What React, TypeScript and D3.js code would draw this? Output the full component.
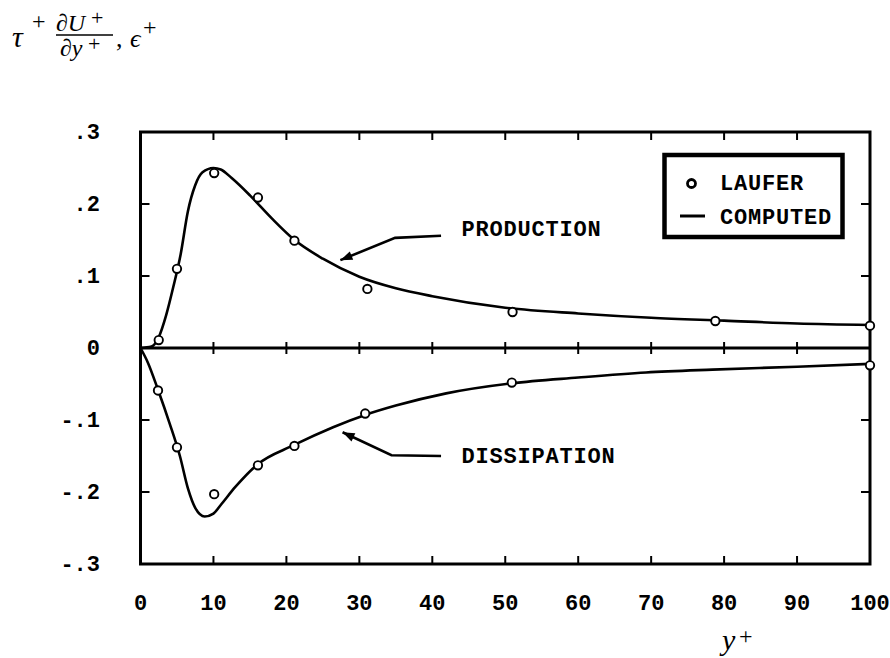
import { useEffect, useRef } from "react";
import * as d3 from "d3";

// Laufer measurements (circles)
const lauferProdX = [2.5, 5, 10.1, 16.1, 21.1, 31.1, 51, 78.8, 100];
const lauferProdY = [0.011, 0.11, 0.243, 0.209, 0.149, 0.082, 0.05, 0.0375, 0.031];
const lauferDissX = [2.4, 5, 10.1, 16.1, 21.1, 30.8, 50.9, 100];
const lauferDissY = [-0.059, -0.138, -0.203, -0.163, -0.136, -0.091, -0.048, -0.024];

// computed curves
const compProdX = [0, 1.5, 2.5, 3.5, 4.5, 5.5, 6.5, 7.5, 8.5, 10, 11, 12.5, 15, 18, 21, 25, 30, 35, 40, 50, 60, 70, 80, 90, 100];
const compProdY = [0, 0.002, 0.015, 0.045, 0.085, 0.13, 0.19, 0.226, 0.244, 0.25, 0.248, 0.236, 0.212, 0.18, 0.151, 0.124, 0.099, 0.083, 0.072, 0.056, 0.048, 0.042, 0.038, 0.034, 0.032];
const compDissX = [0, 1, 2.4, 4, 5.4, 6.5, 7.5, 8.8, 10, 11, 13, 16, 21, 26.4, 30.8, 35, 41.9, 50.9, 60, 69.3, 78.4, 90, 100];
const compDissY = [0, -0.02, -0.058, -0.105, -0.15, -0.195, -0.222, -0.234, -0.23, -0.218, -0.193, -0.162, -0.135, -0.11, -0.093, -0.08, -0.063, -0.049, -0.041, -0.034, -0.03, -0.026, -0.022];

const xTicks = [0, 10, 20, 30, 40, 50, 60, 70, 80, 90, 100];
const yTicks = [0.3, 0.2, 0.1, 0, -0.1, -0.2, -0.3];
const yTickLabels = [".3", ".2", ".1", "0", "-.1", "-.2", "-.3"];

const mono = "'Liberation Mono', 'DejaVu Sans Mono', monospace";
const serif = "'Liberation Serif', 'DejaVu Serif', serif";
const FS = 22;

export default function App() {
  const ref = useRef<SVGSVGElement | null>(null);

  useEffect(() => {
    if (!ref.current) return;
    const width = 890;
    const height = 658;

    const svg = d3.select(ref.current)
      .attr("width", width)
      .attr("height", height);
    svg.selectAll("*").remove();

    const x = d3.scaleLinear().domain([0, 100]).range([140.5, 870]);
    const y = d3.scaleLinear().domain([-0.3, 0.3]).range([564, 132]);

    const x0 = x(0), x1 = x(100), yTop = y(0.3), yBot = y(-0.3), yZero = y(0);

    /* ---------- ticks ---------- */
    const tk = svg.append("g").attr("stroke", "#000").attr("stroke-width", 2);
    xTicks.slice(1, -1).forEach(t => {
      tk.append("line").attr("x1", x(t)).attr("x2", x(t)).attr("y1", yTop).attr("y2", yTop + 8);
      tk.append("line").attr("x1", x(t)).attr("x2", x(t)).attr("y1", yZero - 6).attr("y2", yZero + 6);
      tk.append("line").attr("x1", x(t)).attr("x2", x(t)).attr("y1", yBot).attr("y2", yBot - 8);
    });
    yTicks.filter(t => t !== 0 && Math.abs(t) < 0.3).forEach(t => {
      tk.append("line").attr("x1", x0).attr("x2", x0 + 9).attr("y1", y(t)).attr("y2", y(t));
      tk.append("line").attr("x1", x1).attr("x2", x1 - 9).attr("y1", y(t)).attr("y2", y(t));
    });

    /* ---------- frame + zero line ---------- */
    svg.append("rect")
      .attr("x", x0).attr("y", yTop)
      .attr("width", x1 - x0).attr("height", yBot - yTop)
      .attr("fill", "none").attr("stroke", "#000").attr("stroke-width", 3);
    svg.append("line")
      .attr("x1", x0).attr("x2", x1).attr("y1", yZero).attr("y2", yZero)
      .attr("stroke", "#000").attr("stroke-width", 3);

    /* ---------- tick labels ---------- */
    svg.append("g").selectAll("text")
      .data(xTicks).enter().append("text")
      .attr("x", d => x(d)).attr("y", 610)
      .attr("text-anchor", "middle")
      .attr("font-family", mono).attr("font-weight", "bold").attr("font-size", FS)
      .text(d => String(d));
    svg.append("g").selectAll("text")
      .data(yTicks).enter().append("text")
      .attr("x", 100).attr("y", d => y(d) + 7)
      .attr("text-anchor", "end")
      .attr("font-family", mono).attr("font-weight", "bold").attr("font-size", FS)
      .text((_, i) => yTickLabels[i]);

    /* ---------- computed curves ---------- */
    const line = d3.line<[number, number]>()
      .x(d => x(d[0])).y(d => y(d[1]))
      .curve(d3.curveMonotoneX);
    const prod = compProdX.map((v, i) => [v, compProdY[i]] as [number, number]);
    const diss = compDissX.map((v, i) => [v, compDissY[i]] as [number, number]);
    [prod, diss].forEach(d => {
      svg.append("path").datum(d)
        .attr("fill", "none").attr("stroke", "#000").attr("stroke-width", 2.6)
        .attr("d", line);
    });

    /* ---------- Laufer points ---------- */
    const pts = [
      ...lauferProdX.map((v, i) => [v, lauferProdY[i]]),
      ...lauferDissX.map((v, i) => [v, lauferDissY[i]]),
    ];
    svg.append("g").selectAll("circle")
      .data(pts).enter().append("circle")
      .attr("cx", d => x(d[0])).attr("cy", d => y(d[1]))
      .attr("r", 4.2).attr("fill", "#fff")
      .attr("stroke", "#000").attr("stroke-width", 1.9);

    /* ---------- annotations ---------- */
    const notes = [
      { label: "PRODUCTION", pos: [44, 0.1556], path: [[41.2, 0.156], [34.9, 0.153], [27.4, 0.122]] },
      { label: "DISSIPATION", pos: [44, -0.16], path: [[41.2, -0.15], [34.4, -0.149], [27.7, -0.117]] },
    ];
    notes.forEach(n => {
      const p = n.path.map(q => [x(q[0]), y(q[1])]);
      svg.append("path")
        .attr("d", d3.line()(p as [number, number][]))
        .attr("fill", "none").attr("stroke", "#000").attr("stroke-width", 2.6);
      const [ax, ay] = p[2];
      const [bx, by] = p[1];
      const ang = Math.atan2(ay - by, ax - bx);
      const L = 12, W = 4.5;
      const hx = ax - L * Math.cos(ang), hy = ay - L * Math.sin(ang);
      svg.append("path")
        .attr("d", `M${ax},${ay}L${hx - W * Math.sin(ang)},${hy + W * Math.cos(ang)}L${hx + W * Math.sin(ang)},${hy - W * Math.cos(ang)}Z`)
        .attr("fill", "#000");
      svg.append("text")
        .attr("x", x(n.pos[0])).attr("y", y(n.pos[1]))
        .attr("font-family", mono).attr("font-weight", "bold").attr("font-size", FS)
        .attr("letter-spacing", 0.8)
        .text(n.label);
    });

    /* ---------- legend ---------- */
    const lg = svg.append("g");
    lg.append("rect")
      .attr("x", 664.5).attr("y", 155)
      .attr("width", 178).attr("height", 82)
      .attr("fill", "#fff").attr("stroke", "#000").attr("stroke-width", 4.5);
    lg.append("circle").attr("cx", 691.5).attr("cy", 183.5).attr("r", 4)
      .attr("fill", "#fff").attr("stroke", "#000").attr("stroke-width", 2.8);
    lg.append("line").attr("x1", 680).attr("x2", 705).attr("y1", 216).attr("y2", 216)
      .attr("stroke", "#000").attr("stroke-width", 3);
    lg.append("text").attr("x", 720).attr("y", 190)
      .attr("font-family", mono).attr("font-weight", "bold").attr("font-size", FS)
      .attr("letter-spacing", 0.8).text("LAUFER");
    lg.append("text").attr("x", 720).attr("y", 224)
      .attr("font-family", mono).attr("font-weight", "bold").attr("font-size", FS)
      .attr("letter-spacing", 0.8).text("COMPUTED");

    /* ---------- axis titles ---------- */
    const t = svg.append("g").attr("font-family", serif).attr("font-style", "italic");
    t.append("text").attr("x", 12).attr("y", 47).attr("font-size", 30).text("τ");
    t.append("text").attr("x", 32).attr("y", 29).attr("font-size", 24).attr("font-style", "normal").text("+");
    t.append("text").attr("x", 56).attr("y", 31).attr("font-size", 24).text("∂U");
    t.append("text").attr("x", 91).attr("y", 25).attr("font-size", 22).attr("font-style", "normal").text("+");
    t.append("line").attr("x1", 56).attr("x2", 113).attr("y1", 35).attr("y2", 35)
      .attr("stroke", "#000").attr("stroke-width", 1.5);
    t.append("text").attr("x", 60).attr("y", 56).attr("font-size", 24).text("∂y");
    t.append("text").attr("x", 88).attr("y", 51).attr("font-size", 22).attr("font-style", "normal").text("+");
    t.append("text").attr("x", 116).attr("y", 47).attr("font-size", 26).attr("font-style", "normal").text(",");
    t.append("text").attr("x", 130).attr("y", 47).attr("font-size", 26).text("ϵ");
    t.append("text").attr("x", 143).attr("y", 35).attr("font-size", 24).attr("font-style", "normal").text("+");

    t.append("text").attr("x", 722).attr("y", 650).attr("font-size", 30).text("y");
    t.append("text").attr("x", 739).attr("y", 644).attr("font-size", 24).attr("font-style", "normal").text("+");
  }, []);

  return <svg ref={ref} style={{ position: "absolute", left: 0, top: 0, background: "#fff" }} />;
}
